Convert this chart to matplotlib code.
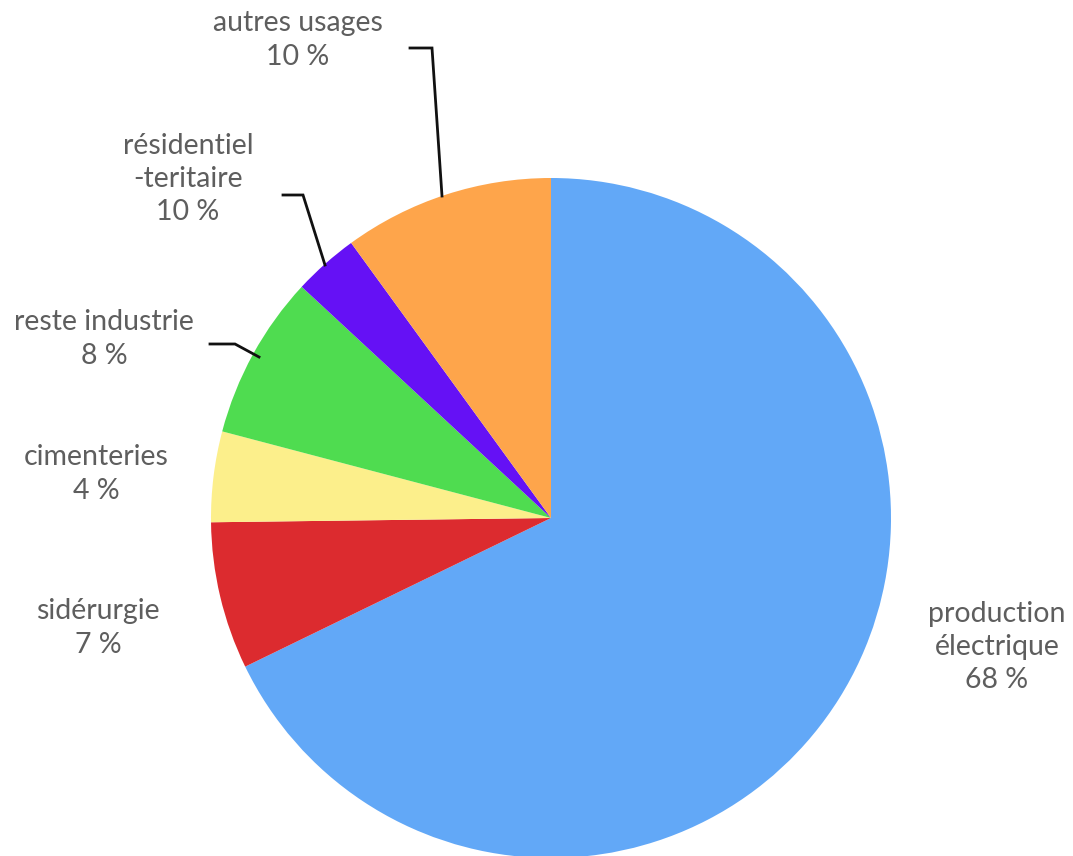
import matplotlib
matplotlib.use("Agg")
import matplotlib.pyplot as plt

categories = ["production\nélectrique", "sidérurgie", "cimenteries", "reste industrie",
              "résidentiel\n-teritaire", "autres usages"]
values = [67.8, 7.0, 4.3, 7.8, 3.1, 10.0]
pct_labels = ["68 %", "7 %", "4 %", "8 %", "10 %", "10 %"]
colors = ["#62A8F7", "#DC2B2F", "#FCEF8B", "#4FDC50", "#6511F5", "#FEA54B"]

W, H = 1073, 856
fig = plt.figure(figsize=(W / 100, H / 100), dpi=100)
ax = fig.add_axes([0, 0, 1, 1])

cx, cy, r = 551, H - 518, 340
ax.pie(values, colors=colors, startangle=90, counterclock=False,
       center=(cx, cy), radius=r, frame=True,
       wedgeprops=dict(linewidth=0))
ax.set_xlim(0, W)
ax.set_ylim(0, H)
ax.set_aspect("equal")
ax.axis("off")

# label positions (pixel coords, top-origin)
label_pos = [(997, 647), (98, 628), (96, 474), (104, 339), (188, 179), (298, 40)]
text_color = "#5e5e5e"
for cat, pct, (x, y) in zip(categories, pct_labels, label_pos):
    ax.text(x, H - y, cat + "\n" + pct, ha="center", va="center",
            fontsize=20.5, color=text_color, family=["Lato", "DejaVu Sans"],
            linespacing=1.34)

# leader lines
leaders = [
    [(410, 48), (432, 48), (442, 196)],
    [(283, 195), (303, 195), (325, 265)],
    [(210, 344), (235, 344), (259, 357)],
]
for pts in leaders:
    xs = [p[0] for p in pts]
    ys = [H - p[1] for p in pts]
    ax.plot(xs, ys, color="#111111", lw=2, solid_joinstyle="miter")

fig.savefig("out.png", dpi=100, facecolor="white")
